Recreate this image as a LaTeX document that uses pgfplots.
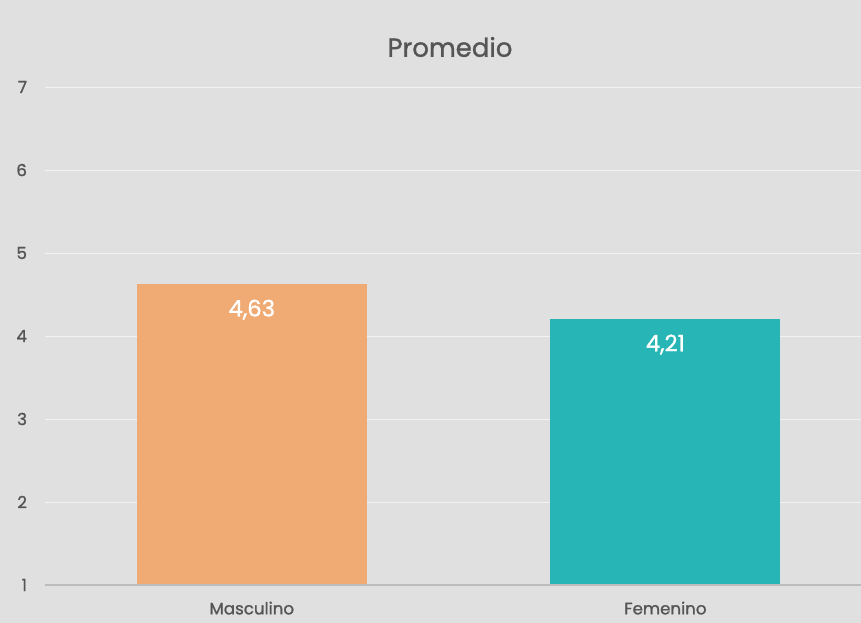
\documentclass[border=0pt]{standalone}
\usepackage{pgfplots}
\pgfplotsset{compat=1.18}
\usepackage{fontspec}
\setmainfont{Poppins}[FakeBold=1.2, AutoFakeBold=1.2]
\definecolor{bg}{HTML}{E0E0E0}
\definecolor{txt}{HTML}{555555}
\definecolor{orng}{HTML}{F0AB74}
\definecolor{teal2}{HTML}{27B6B5}
\definecolor{axl}{HTML}{BDBDBD}
\definecolor{grd}{HTML}{F2F2F2}
\begin{document}
\begin{tikzpicture}
\useasboundingbox (-33.75pt,-28.5pt) rectangle (612pt,438.75pt);
\fill[bg] (-33.75pt,-28.5pt) rectangle (612pt,438.75pt);
\draw[color=black!12,line width=0.6pt] (-30pt,429.75pt) -- (612pt,429.75pt);
\node[text=txt,font=\fontsize{19.5}{22}\selectfont] at (303.75pt,403.5pt) {Promedio};
\begin{axis}[
  at={(0,0)}, anchor=south west,
  scale only axis, width=612pt, height=373.5pt,
  xmin=-0.5, xmax=1.473, ymin=1, ymax=7,
  ytick={1,2,...,7},
  xtick={0,1}, xticklabels={Masculino,Femenino},
  axis line style={draw=none},
  major tick length=0pt,
  ymajorgrids, grid style={grd, line width=0.6pt},
  tick label style={text=txt, font=\fontsize{12.5}{14}\selectfont},
  /pgf/number format/assume math mode=true,
  yticklabel style={xshift=-10pt},
  xticklabel style={yshift=-9pt},
  ybar, bar width=172.5pt, bar shift=0pt,
  nodes near coords={\pgfmathprintnumber[use comma, fixed, fixed zerofill, precision=2, assume math mode=true]{\pgfplotspointmeta}},
  every node near coord/.append style={text=white, anchor=center, yshift=-19.5pt, font=\fontsize{17}{19}\selectfont},
  clip=false,
]
\addplot[fill=orng, draw=none] coordinates {(0,4.63)};
\addplot[fill=teal2, draw=none] coordinates {(1,4.21)};
\draw[axl, line width=1.5pt] (axis cs:-0.5,1) -- (axis cs:1.473,1);
\end{axis}
\end{tikzpicture}
\end{document}
